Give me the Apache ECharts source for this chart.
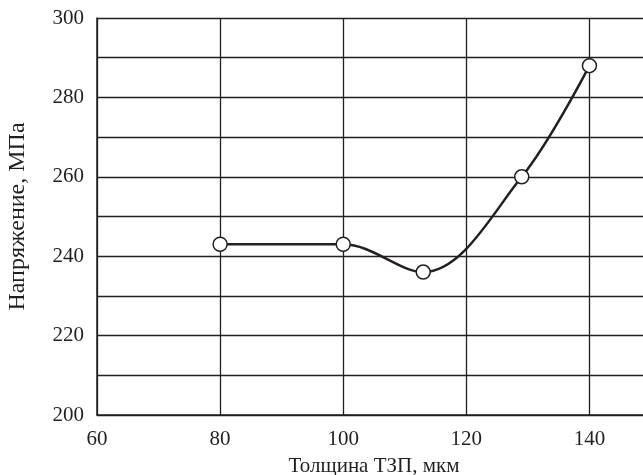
<!DOCTYPE html>
<html>
<head>
<meta charset="utf-8">
<script src="https://cdn.jsdelivr.net/npm/echarts@6/dist/echarts.min.js"></script>
<style>html,body{margin:0;padding:0;background:#fff}#c{width:643px;height:475px}</style>
</head>
<body>
<div id="c"></div>
<script>
var thickness = [80, 100, 113, 129, 140];
var stress = [243, 243, 236, 260, 288];
var xTicks = [60, 80, 100, 120, 140];
var yTicks = [200, 220, 240, 260, 280, 300];
var xTitle = 'Толщина ТЗП, мкм';
var yTitle = 'Напряжение, МПа';

var chart = echarts.init(document.getElementById('c'));
var font = 'Liberation Serif';
chart.setOption({
  animation: false,
  backgroundColor: '#fff',
  grid: {left: 97, width: 554, top: 18, height: 397, outerBoundsMode: 'none', containLabel: false},
  xAxis: {
    type: 'value', min: 60, max: 150, interval: 20,
    name: xTitle, nameLocation: 'middle', nameGap: 41,
    nameTextStyle: {fontFamily: font, fontSize: 21, color: '#231f20'},
    axisLine: {show: true, lineStyle: {color: '#231f20', width: 1.5}},
    axisTick: {show: false},
    axisLabel: {fontFamily: font, fontSize: 21, color: '#231f20', margin: 14,
      formatter: function (v) { return xTicks.indexOf(v) >= 0 ? String(v) : ''; }},
    splitLine: {show: true, lineStyle: {color: '#231f20', width: 1.3}}
  },
  yAxis: {
    type: 'value', min: 200, max: 300, interval: 10,
    name: yTitle, nameLocation: 'middle', nameGap: 67, nameRotate: 90,
    nameTextStyle: {fontFamily: font, fontSize: 24, color: '#231f20'},
    axisLine: {show: true, lineStyle: {color: '#231f20', width: 1.5}},
    axisTick: {show: false},
    axisLabel: {fontFamily: font, fontSize: 21, color: '#231f20', margin: 13,
      formatter: function (v) { return yTicks.indexOf(v) >= 0 ? String(v) : ''; }},
    splitLine: {show: true, lineStyle: {color: '#231f20', width: 1.3}}
  },
  series: [{
    type: 'line',
    data: thickness.map(function (x, i) { return [x, stress[i]]; }),
    smooth: 0.35,
    symbol: 'circle', symbolSize: 14,
    itemStyle: {color: '#fff', borderColor: '#231f20', borderWidth: 1.5},
    lineStyle: {color: '#231f20', width: 2.5},
    z: 5
  }]
});
</script>
</body>
</html>
